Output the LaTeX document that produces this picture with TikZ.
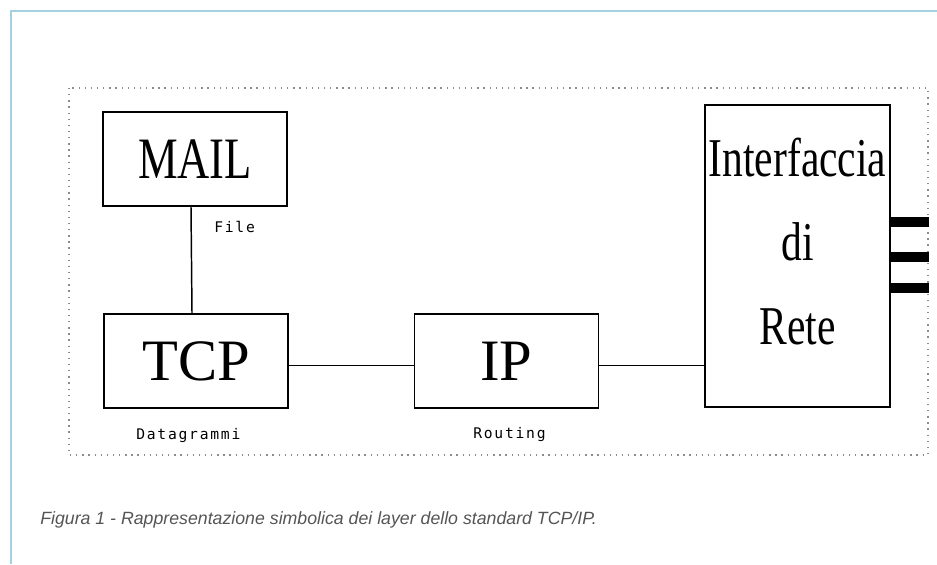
\documentclass[tikz,border=0pt]{standalone}
\usepackage{fontspec}
\setmainfont{Liberation Serif}
\newfontfamily\narrowfont[FakeStretch=0.76]{Liberation Serif}
\newfontfamily\labelfont[LetterSpace=12]{DejaVu Sans Mono}
\newfontfamily\captionfont{Liberation Sans}
\usetikzlibrary{positioning}

\definecolor{framecol}{RGB}{165,208,226}
\definecolor{dotcol}{RGB}{140,140,140}
\definecolor{captioncol}{RGB}{85,85,85}

\tikzset{
  layer/.style={draw, line width=1.3pt, inner sep=0pt, minimum width=138pt, minimum height=70.5pt,
    font=\fontsize{44}{50}\selectfont},
  tag/.style={anchor=west, inner sep=0.75pt, font=\labelfont\fontsize{11}{13}\selectfont},
  link/.style={line width=1.1pt},
  port/.style={line width=7.5pt},
}

\begin{document}
\begin{tikzpicture}[x=0.75pt,y=0.75pt,yscale=-1,xscale=1]
\useasboundingbox (0,0) rectangle (937,564);

% page frame
\draw [framecol, line width=1.5pt] (937,11) -- (11,11) -- (11,564);
% dotted border
\draw [dotcol, line width=1pt, dash pattern=on 1pt off 3.6pt] (69,88) rectangle (928,455);

% Layers
\node [layer, font=\narrowfont\fontsize{44}{50}\selectfont] (mail) at (195,159) {MAIL};
\node [layer] (tcp) at (196,361) {TCP};
\node [layer] (ip) at (506.5,361) {IP};
\node [layer, minimum width=138.75pt, minimum height=226.5pt] (iface) at (797.5,256) {};
\node [align=center, inner sep=0pt, font=\narrowfont\fontsize{41}{63}\selectfont] (ifacetext) at (797.5,242)
  {Interfaccia\\di\\Rete};

% Text Node
\node [tag] (filetag) at (213,227) {File};
% Text Node
\node [tag] (dgramtag) at (135,435) {Datagrammi};
% Text Node
\node [tag] (routetag) at (472,434) {Routing};

% Links between layers
\draw [link] ([xshift=-3pt]mail.south) -- ([xshift=-3pt]tcp.north);
\draw [link] ([yshift=3.5pt]tcp.east) -- ([yshift=3.5pt]ip.west);
\draw [link] ([yshift=3.5pt]ip.east) -- ([yshift=3.5pt]ip.east -| iface.west);

% network ports
\foreach \dy in {24,0.75,-25.5}
  \draw [port] ([yshift=\dy pt]iface.east) -- ++(38,0);

% Caption
\node [anchor=base west, inner sep=0pt, text=captioncol, font=\captionfont\itshape\fontsize{13.3}{15}\selectfont] (caption) at (40,524)
  {Figura 1 - Rappresentazione simbolica dei layer dello standard TCP/IP.};

\end{tikzpicture}
\end{document}
